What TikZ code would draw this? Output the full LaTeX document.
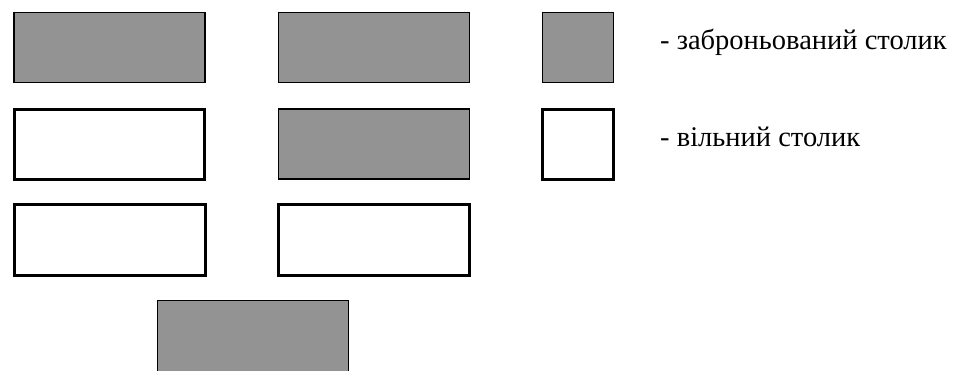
\documentclass[tikz,border=0pt]{standalone}
\usepackage{fontspec}
\setmainfont{Liberation Serif}
\definecolor{tablegray}{RGB}{147,147,147}
\begin{document}
\begin{tikzpicture}[x=1pt,y=-1pt,
  booked/.style={draw=black,fill=tablegray,line width=1.4pt,inner sep=0pt,minimum width=191pt,minimum height=70pt},
  free/.style={draw=black,fill=white,line width=3pt,inner sep=0pt,minimum width=190pt,minimum height=70pt},
  legendtext/.style={anchor=base west,inner sep=0pt,font=\fontsize{28.5}{34}\selectfont}]
\useasboundingbox (0,0) rectangle (960,371);
\node[booked] (t1) at (109.5,47.5) {};
\node[booked] (t2) at (374,47.5) {};
\node[free] (t3) at (109.5,144.5) {};
\node[booked] (t4) at (374,144) {};
\node[free,minimum width=191pt,minimum height=71pt] (t5) at (110,240) {};
\node[free,minimum width=191pt,minimum height=71pt] (t6) at (374,240) {};
\node[booked,minimum height=73pt] (t7) at (253,337) {};
\node[booked,minimum width=71pt,minimum height=70pt] (lb) at (578,47.5) {};
\node[free,minimum width=71pt,minimum height=70pt] (lf) at (578,144.5) {};
\node[legendtext] (lbt) at (660,50) {- заброньований столик};
\node[legendtext] (lft) at (660,147) {- вільний столик};
\end{tikzpicture}
\end{document}
